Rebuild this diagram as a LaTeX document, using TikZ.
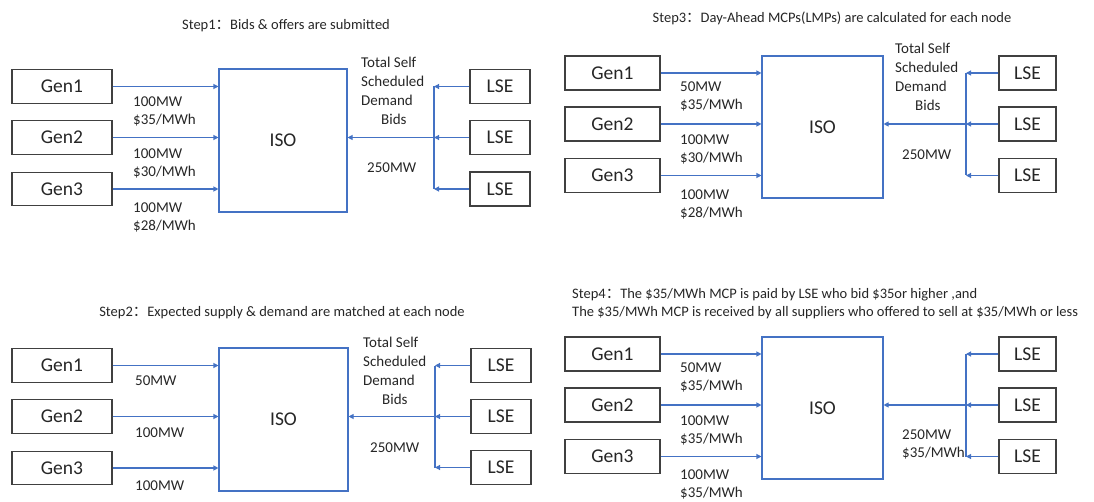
\documentclass[tikz,border=0pt]{standalone}
\usepackage{fontspec}
\setmainfont{Carlito}
\newfontfamily\cjk{Noto Sans CJK SC}
\usetikzlibrary{arrows.meta}
\definecolor{officeblue}{HTML}{4472C4}
\definecolor{txt}{HTML}{262626}
\definecolor{boxline}{HTML}{404040}
\tikzset{
  box/.style={draw=boxline, line width=1.1pt, fill=white, inner sep=0pt, text=txt,
    font=\fontsize{19.5}{22}\selectfont},
  genbox/.style={box, minimum width=100pt, minimum height=33.5pt},
  genboxb/.style={box, minimum width=95pt, minimum height=34pt},
  lsebox/.style={box, minimum width=60pt, minimum height=34pt},
  lseboxb/.style={box, minimum width=57pt, minimum height=34pt},
  isobox/.style={draw=officeblue, line width=1.1pt, inner sep=0pt, text=txt,
    font=\fontsize{19.5}{22}\selectfont},
  arr/.style={draw=officeblue, line width=1.1pt, -{Triangle[length=5pt,width=5pt]}},
  plain/.style={draw=officeblue, line width=1.1pt},
  lbl/.style={anchor=west, inner sep=0pt, align=left, text=txt,
    font=\fontsize{15}{18}\selectfont},
  demand/.style={anchor=west, inner sep=0pt, align=left, text=txt,
    font=\fontsize{15}{19}\selectfont},
  ttl/.style={inner sep=0pt, text=txt, font=\fontsize{14.5}{18}\selectfont}
}
\newcommand{\fc}{{\cjk ：}}
\begin{document}
\begin{tikzpicture}[x=1pt,y=-1pt]
\useasboundingbox (0,0) rectangle (1094,502);

%% ---------------- Panel 1 ----------------
\node[ttl] (a-t) at (286,26) {Step1\fc Bids \& offers are submitted};
\node[genbox] (a-g1) at (62,86.5) {Gen1};
\node[genbox] (a-g2) at (62,137.5) {Gen2};
\node[genbox] (a-g3) at (62,189) {Gen3};
\node[isobox, minimum width=128pt, minimum height=143pt] (a-iso) at (283,140.5) {ISO};
\node[lsebox] (a-l1) at (500,86.5) {LSE};
\node[lsebox] (a-l2) at (500,137.5) {LSE};
\node[lsebox] (a-l3) at (500,189) {LSE};
\coordinate (a-vx) at (434,0);
\draw[arr] (a-g1.east) -- (a-g1.east -| a-iso.west);
\draw[arr] (a-g2.east) -- (a-g2.east -| a-iso.west);
\draw[arr] (a-g3.east) -- (a-g3.east -| a-iso.west);
\draw[plain] (a-l1.west -| a-vx) -- (a-l3.west -| a-vx);
\draw[arr] (a-l1.west) -- (a-l1.west -| a-vx);
\draw[arr] (a-l2.west) -- (a-l2.west -| a-vx);
\draw[arr] (a-l3.west) -- (a-l3.west -| a-vx);
\draw[arr] (a-l2.west -| a-vx) -- (a-l2.west -| a-iso.east);
\node[lbl] (a-p1) at (133,111) {100MW\\\$35/MWh};
\node[lbl] (a-p2) at (133,163) {100MW\\\$30/MWh};
\node[lbl] (a-p3) at (133,217.5) {100MW\\\$28/MWh};
\node[demand] (a-d) at (361,91) {Total Self\\Scheduled\\Demand\\\hspace*{20pt}Bids};
\node[lbl] (a-q) at (367,168) {250MW};

%% ---------------- Panel 2 ----------------
\node[ttl] (b-t) at (282,313) {Step2\fc Expected supply \& demand are matched at each node};
\node[genbox] (b-g1) at (62,365.5) {Gen1};
\node[genbox] (b-g2) at (62,416.5) {Gen2};
\node[genbox] (b-g3) at (62,468) {Gen3};
\node[isobox, minimum width=129pt, minimum height=143pt] (b-iso) at (283.5,419.5) {ISO};
\node[lsebox] (b-l1) at (501,365.5) {LSE};
\node[lsebox] (b-l2) at (501,416.5) {LSE};
\node[lsebox] (b-l3) at (501,467.5) {LSE};
\coordinate (b-vx) at (435,0);
\draw[arr] (b-g1.east) -- (b-g1.east -| b-iso.west);
\draw[arr] (b-g2.east) -- (b-g2.east -| b-iso.west);
\draw[arr] (b-g3.east) -- (b-g3.east -| b-iso.west);
\draw[plain] (b-l1.west -| b-vx) -- (b-l3.west -| b-vx);
\draw[arr] (b-l1.west) -- (b-l1.west -| b-vx);
\draw[arr] (b-l2.west) -- (b-l2.west -| b-vx);
\draw[arr] (b-l3.west) -- (b-l3.west -| b-vx);
\draw[arr] (b-l2.west -| b-vx) -- (b-l2.west -| b-iso.east);
\node[lbl] (b-p1) at (135,381) {50MW};
\node[lbl] (b-p2) at (135,433) {100MW};
\node[lbl] (b-p3) at (135,486) {100MW};
\node[demand] (b-d) at (363,370.5) {Total Self\\Scheduled\\Demand\\\hspace*{19pt}Bids};
\node[lbl] (b-q) at (370,448) {250MW};

%% ---------------- Panel 3 ----------------
\node[ttl] (c-t) at (832,18) {Step3\fc Day-Ahead MCPs(LMPs) are calculated for each node};
\node[genboxb] (c-g1) at (612.5,73) {Gen1};
\node[genboxb] (c-g2) at (612.5,124) {Gen2};
\node[genboxb] (c-g3) at (612.5,175.5) {Gen3};
\node[isobox, minimum width=121pt, minimum height=142pt] (c-iso) at (822.5,127) {ISO};
\node[lseboxb] (c-l1) at (1027.5,73) {LSE};
\node[lseboxb] (c-l2) at (1027.5,124) {LSE};
\node[lseboxb] (c-l3) at (1027.5,175.5) {LSE};
\coordinate (c-vx) at (966,0);
\draw[arr] (c-g1.east) -- (c-g1.east -| c-iso.west);
\draw[arr] (c-g2.east) -- (c-g2.east -| c-iso.west);
\draw[arr] (c-g3.east) -- (c-g3.east -| c-iso.west);
\draw[plain] (c-l1.west -| c-vx) -- (c-l3.west -| c-vx);
\draw[arr] (c-l1.west) -- (c-l1.west -| c-vx);
\draw[arr] (c-l2.west) -- (c-l2.west -| c-vx);
\draw[arr] (c-l3.west) -- (c-l3.west -| c-vx);
\draw[arr] (c-l2.west -| c-vx) -- (c-l2.west -| c-iso.east);
\node[lbl] (c-p1) at (680,96) {50MW\\\$35/MWh};
\node[lbl] (c-p2) at (680,149.5) {100MW\\\$30/MWh};
\node[lbl] (c-p3) at (680,204) {100MW\\\$28/MWh};
\node[demand] (c-d) at (895,77) {Total Self\\Scheduled\\Demand\\\hspace*{20pt}Bids};
\node[lbl] (c-q) at (902,155) {250MW};

%% ---------------- Panel 4 ----------------
\node[ttl, anchor=west, align=left] (d-t) at (572,304) {Step4\fc The \$35/MWh MCP is paid by LSE who bid \$35or higher ,and\\The \$35/MWh MCP is received by all suppliers who offered to sell at \$35/MWh or less};
\node[genboxb] (d-g1) at (612.5,354) {Gen1};
\node[genboxb] (d-g2) at (612.5,405) {Gen2};
\node[genboxb] (d-g3) at (612.5,456.5) {Gen3};
\node[isobox, minimum width=121pt, minimum height=142pt] (d-iso) at (822.5,408) {ISO};
\node[lseboxb] (d-l1) at (1027.5,354) {LSE};
\node[lseboxb] (d-l2) at (1027.5,405) {LSE};
\node[lseboxb] (d-l3) at (1027.5,456.5) {LSE};
\coordinate (d-vx) at (966,0);
\draw[arr] (d-g1.east) -- (d-g1.east -| d-iso.west);
\draw[arr] (d-g2.east) -- (d-g2.east -| d-iso.west);
\draw[arr] (d-g3.east) -- (d-g3.east -| d-iso.west);
\draw[plain] (d-l1.west -| d-vx) -- (d-l3.west -| d-vx);
\draw[arr] (d-l1.west) -- (d-l1.west -| d-vx);
\draw[arr] (d-l2.west) -- (d-l2.west -| d-vx);
\draw[arr] (d-l3.west) -- (d-l3.west -| d-vx);
\draw[arr] (d-l2.west -| d-vx) -- (d-l2.west -| d-iso.east);
\node[lbl] (d-p1) at (680,377) {50MW\\\$35/MWh};
\node[lbl] (d-p2) at (680,430.5) {100MW\\\$35/MWh};
\node[lbl] (d-p3) at (680,484) {100MW\\\$35/MWh};
\node[lbl] (d-q) at (902,444) {250MW\\\$35/MWh};
\end{tikzpicture}
\end{document}
